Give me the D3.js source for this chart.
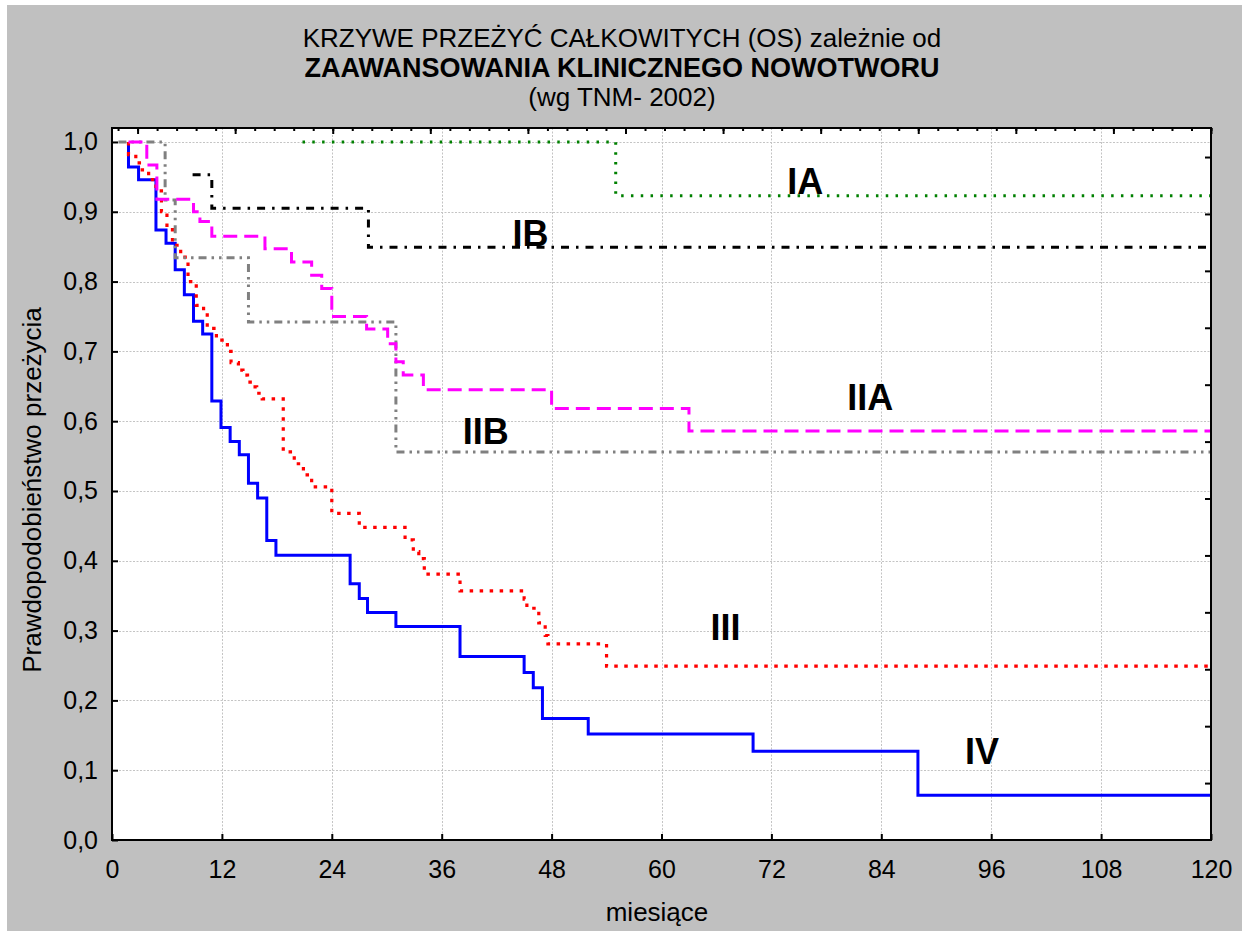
<!DOCTYPE html>
<html lang="pl">
<head>
  <meta charset="UTF-8">
  <title>Krzywe przeżyć</title>
  <script src="https://cdn.jsdelivr.net/npm/d3@7/dist/d3.min.js"></script>
  <style>
    body { margin: 0; background: #fff; }
    text { font-family: Arial, "Liberation Sans", sans-serif; }
  </style>
</head>
<body>
  <div id="wrapper"></div>
  <script>
    // [months, survival probability] - first pair is where the curve starts
    const curveIA = [[20.8, 1.0], [55, 0.923]]
    const curveIB = [[8.8, 0.953], [10.9, 0.905], [28, 0.849]]
    const curveIIA = [[1.8, 1.0], [3.8, 0.967], [4.9, 0.918], [8.9, 0.9], [9.6, 0.886], [10.9, 0.865],
      [16.7, 0.847], [19.6, 0.828], [21.8, 0.809], [22.9, 0.79], [24, 0.75], [27.8, 0.732],
      [30.1, 0.711], [31, 0.685], [31.8, 0.666], [34, 0.645], [48, 0.618], [63, 0.586]]
    const curveIIB = [[0.7, 1.0], [5.8, 0.917], [6.9, 0.834], [14.9, 0.742], [31, 0.556]]
    const curveIII = [[1.8, 1.0], [1.8, 0.982], [2.6, 0.97], [3.3, 0.96], [4, 0.946], [4.8, 0.93],
      [5.4, 0.9], [6, 0.878], [6.6, 0.852], [7.5, 0.835], [8.3, 0.8], [9.2, 0.766], [10, 0.755],
      [10.4, 0.733], [11.4, 0.716], [12.6, 0.7], [13, 0.684], [13.8, 0.673], [14.3, 0.666],
      [14.8, 0.656], [15.4, 0.649], [15.8, 0.64], [16.4, 0.632], [18.7, 0.556], [19.9, 0.539],
      [20.9, 0.523], [21.8, 0.506], [24, 0.468], [27, 0.448], [32, 0.43], [32.9, 0.413],
      [33.5, 0.403], [34.1, 0.381], [38, 0.357], [45, 0.345], [45.3, 0.332], [46.6, 0.311],
      [47.3, 0.293], [47.6, 0.281], [54, 0.249]]
    const curveIV = [[1.8, 1.0], [1.8, 0.964], [2.9, 0.946], [4.8, 0.874], [5.9, 0.855], [6.9, 0.817],
      [7.9, 0.781], [8.9, 0.743], [9.9, 0.725], [10.9, 0.629], [11.9, 0.591], [12.9, 0.571],
      [13.9, 0.552], [14.9, 0.511], [15.9, 0.49], [16.9, 0.429], [17.9, 0.408], [26, 0.367],
      [27, 0.346], [27.9, 0.326], [31, 0.306], [38, 0.263], [45, 0.24], [46, 0.218], [47, 0.174],
      [52, 0.152], [70, 0.127], [88, 0.064]]
    const followUp = 120

    const xTicks = d3.range(0, 121, 12)
    const yTicks = d3.range(0, 1.01, 0.1)
    const titleLines = ["KRZYWE PRZEŻYĆ CAŁKOWITYCH (OS) zależnie od", "ZAAWANSOWANIA KLINICZNEGO NOWOTWORU", "(wg TNM- 2002)"]
    const stageNames = ["IA", "IB", "IIA", "IIB", "III", "IV"]
    // where each stage name sits, [months, survival]
    const stageLabelPos = [[75.7, 0.925], [45.7, 0.851], [82.8, 0.616], [40.8, 0.567], [67, 0.287], [95, 0.109]]

    let dimensions = {
      width: 1242,
      height: 931,
      margin: { top: 128, right: 31, bottom: 91, left: 112 }
    }
    dimensions.boundedWidth = dimensions.width - dimensions.margin.left - dimensions.margin.right
    dimensions.boundedHeight = dimensions.height - dimensions.margin.top - dimensions.margin.bottom

    const svg = d3.select("#wrapper").append("svg")
      .attr("width", dimensions.width)
      .attr("height", dimensions.height)
      .style("display", "block")

    svg.append("rect")
      .attr("x", 7).attr("y", 5)
      .attr("width", dimensions.width - 7).attr("height", dimensions.height - 5)
      .attr("fill", "#c0c0c0")

    const title = svg.append("text")
      .attr("text-anchor", "middle")
      .attr("fill", "#000")
    title.selectAll("tspan").data(titleLines).join("tspan")
      .attr("x", 622)
      .attr("y", (d, i) => 47 + i * 29.5)
      .attr("font-size", (d, i) => i === 1 ? 27 : 26)
      .attr("font-weight", (d, i) => i === 1 ? "bold" : "normal")
      .text(d => d)

    const bounds = svg.append("g")
      .attr("transform", `translate(${dimensions.margin.left},${dimensions.margin.top})`)

    const xScale = d3.scaleLinear().domain([0, 120]).range([0, dimensions.boundedWidth])
    const yScale = d3.scaleLinear().domain([0, 1.02]).range([dimensions.boundedHeight, 0])

    bounds.append("rect")
      .attr("width", dimensions.boundedWidth)
      .attr("height", dimensions.boundedHeight)
      .attr("fill", "#fff")

    // grid
    const grid = bounds.append("g")
      .attr("stroke", "#c4c4c4")
      .attr("stroke-width", 1)
      .attr("stroke-dasharray", "2,1.5")
    grid.selectAll(".vg").data(xTicks.slice(1, -1)).join("line")
      .attr("x1", d => Math.round(xScale(d)) + 0.5).attr("x2", d => Math.round(xScale(d)) + 0.5)
      .attr("y1", 0).attr("y2", dimensions.boundedHeight)
    grid.selectAll(".hg").data(yTicks.slice(1)).join("line")
      .attr("y1", d => Math.round(yScale(d)) + 0.5).attr("y2", d => Math.round(yScale(d)) + 0.5)
      .attr("x1", 0).attr("x2", dimensions.boundedWidth)

    bounds.append("clipPath").attr("id", "clip")
      .append("rect").attr("width", dimensions.boundedWidth).attr("height", dimensions.boundedHeight)

    const lineGenerator = d3.line()
      .x(d => xScale(d[0]))
      .y(d => yScale(d[1]))
      .curve(d3.curveStepAfter)

    const withEnd = c => c.concat([[followUp, c[c.length - 1][1]]])

    const curves = [
      { data: curveIV, color: "#0000ff", dash: null, w: 3 },
      { data: curveIII, color: "#ff0000", dash: "3.5,6.5", w: 3.2 },
      { data: curveIIB, color: "#808080", dash: "8,5,2.5,5,2.5,5", w: 3 },
      { data: curveIIA, color: "#ff00ff", dash: "14,7", w: 3 },
      { data: curveIB, color: "#000000", dash: "8,7,2.5,7", w: 3 },
      { data: curveIA, color: "#008000", dash: "2.5,7.3", w: 3 }
    ]
    const lines = bounds.append("g").attr("clip-path", "url(#clip)")
    curves.forEach(c => {
      lines.append("path")
        .attr("d", lineGenerator(withEnd(c.data)))
        .attr("fill", "none")
        .attr("stroke", c.color)
        .attr("stroke-width", c.w)
        .attr("stroke-dasharray", c.dash)
    })

    bounds.append("g").selectAll("text").data(stageNames).join("text")
      .attr("x", (d, i) => xScale(stageLabelPos[i][0]))
      .attr("y", (d, i) => yScale(stageLabelPos[i][1]))
      .attr("text-anchor", "middle")
      .attr("font-size", 36)
      .attr("font-weight", "bold")
      .text(d => d)

    // axes, ticks pointing inward
    const xAxis = d3.axisBottom(xScale).tickValues(xTicks).tickSize(-6).tickPadding(20)
    const yAxis = d3.axisLeft(yScale).tickValues(yTicks).tickSize(-6).tickPadding(14)
      .tickFormat(d => d3.format(".1f")(d).replace(".", ","))

    bounds.append("g").attr("transform", `translate(0,${dimensions.boundedHeight})`).call(xAxis)
    bounds.append("g").call(yAxis)

    // secondary top/right ticks (no labels)
    const topScale = d3.scaleLinear().domain([-1.31, 55]).range([0, dimensions.boundedWidth])
    bounds.append("g").call(d3.axisTop(topScale).tickValues(d3.range(-1, 56)).tickSize(-3).tickFormat(""))
    bounds.append("g").call(d3.axisTop(topScale).tickValues(d3.range(0, 56, 5)).tickSize(-6).tickFormat(""))
    const rightScale = d3.scaleLinear().domain([0, 12.51]).range([dimensions.boundedHeight, 0])
    bounds.append("g").attr("transform", `translate(${dimensions.boundedWidth},0)`)
      .call(d3.axisRight(rightScale).tickValues(d3.range(1, 13)).tickSize(-6).tickFormat(""))

    bounds.selectAll(".domain").remove()
    bounds.selectAll(".tick line").attr("stroke", "#000").attr("stroke-width", 2)
    bounds.selectAll(".tick text").attr("font-size", 25).attr("fill", "#000")
      .attr("font-family", "Arial, 'Liberation Sans', sans-serif")

    bounds.append("rect")
      .attr("width", dimensions.boundedWidth)
      .attr("height", dimensions.boundedHeight)
      .attr("fill", "none")
      .attr("stroke", "#000")
      .attr("stroke-width", 2)

    svg.append("text")
      .attr("x", 657).attr("y", 921)
      .attr("text-anchor", "middle")
      .attr("font-size", 26)
      .text("miesiące")

    svg.append("text")
      .attr("transform", `translate(41,${dimensions.margin.top + dimensions.boundedHeight / 2 + 6}) rotate(-90)`)
      .attr("text-anchor", "middle")
      .attr("font-size", 26)
      .text("Prawdopodobieństwo przeżycia")
  </script>
</body>
</html>
